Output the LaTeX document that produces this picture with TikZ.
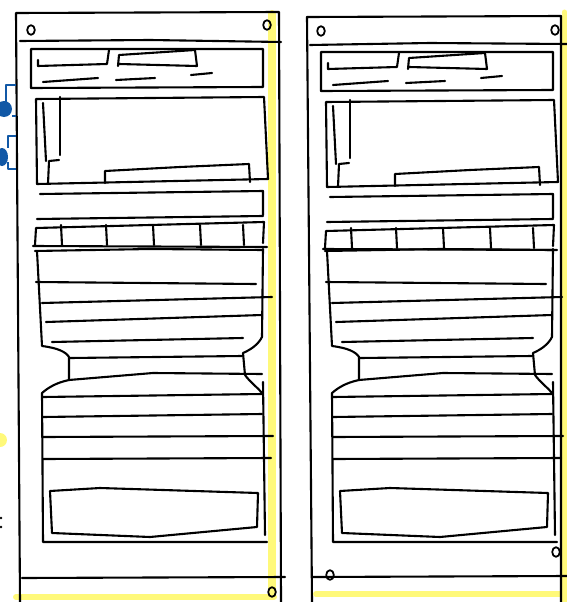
\documentclass[tikz,border=0pt]{standalone}
\usepackage{xcolor}
\usepackage{tikz}

\definecolor{marker}{HTML}{FFF97A}
\definecolor{bluepen}{HTML}{1158A6}

\begin{document}
\begin{tikzpicture}[
    x=1pt, y=-1pt,
    pen/.style={draw=black, line width=2.1pt, line cap=round, line join=round},
    hole/.style={pen, line width=1.8pt},
    hilite/.style={draw=marker, line width=#1, line cap=round},
    hilite/.default=8pt,
    wire/.style={draw=bluepen, line width=1.4pt, line join=round}
]
\useasboundingbox (0,0) rectangle (567,602);
\clip (0,0) rectangle (567,602);

% Highlighter strokes
\path[hilite] (272,14) -- (272,596);
\path[hilite=6pt] (16,597) -- (274,597);
\path[hilite=5pt] (564.5,12) -- (564.5,602);
\path[hilite=6pt] (316,594) -- (565,594);
\fill[marker] (0,440) circle (7);

% Outer frames
\draw[pen] (20,602) -- (16,13) -- (279,12) -- (281,602);
\draw[pen] (312,602) -- (307,17) -- (561,16) -- (561,602);

% Top and bottom rails
\draw[pen] (20,41) -- (150,40) -- (281,42);
\draw[pen] (22,578) -- (285,577);
\draw[pen] (310,45) -- (430,43) -- (567,44);
\draw[pen] (312,577) -- (567,576);

% Screw holes
\foreach \hx/\hy in {31/30, 267/25, 272/592, 321/31, 555/30, 556/552, 330/575}
  \draw[hole] (\hx,\hy) ellipse (3.8 and 4.8);

% Blue connectors (left edge)
\draw[wire] (16,85) -- (6,85) -- (6,102);
\fill[bluepen] (4,109) ellipse (8 and 8);
\draw[wire] (12,116) -- (16,116);
\draw[wire] (16,136) -- (8,136) -- (8,148);
\fill[bluepen] (2,157) ellipse (6 and 9);
\draw[wire] (8,162) -- (8,169) -- (16,169);

% Stray dots
\fill (1,518) circle (1.3);
\fill (1,527) circle (1.3);

% Upper panel parts
\foreach \dx/\dy in {0/0, 290/3} {
\begin{scope}[shift={(\dx,\dy)}]
  % header
  \draw[pen] (31,49) -- (263,49) -- (263,87) -- (31,88) -- cycle;
  \draw[pen] (38,60) -- (38,66) -- (107,64) -- (109,50);
  \draw[pen] (119,64) -- (197,66) -- (195,50) -- (119,55) -- (118,66);
  \draw[pen] (43,82) -- (98,78);
  \draw[pen] (116,80) -- (155,78);
  \draw[pen] (191,75) -- (212,73);
  % screen
  \draw[pen] (36,99) -- (264,97) -- (268,179) -- (37,184) -- cycle;
  \draw[pen] (43,103) -- (46,161);
  \draw[pen] (59,160) -- (49,161) -- (48,184);
  \draw[pen] (60,97) -- (60,155);
  \draw[pen] (105,183) -- (105,171) -- (180,167) -- (249,164) -- (250,182);
  % bar
  \draw[pen] (40,194) -- (263,191) -- (263,215);
  \draw[pen] (37,219) -- (263,216);
  % tabs
  \draw[pen] (35,245) -- (36,228) -- (264,222) -- (263,243);
  \draw[pen] (33,246) -- (267,247);
  \foreach \tx in {61,106,153,200,243}
    \draw[pen] (\tx,225) -- (\tx+1,245);
\end{scope}
}

% Lower panel parts
\foreach \dx in {0,290} {
\begin{scope}[shift={(\dx,0)}]
  % list outline
  \draw[pen] (35,251) -- (150,249) -- (263,250);
  \draw[pen] (37,251) -- (42,346) .. controls (58,348) and (66,352) .. (69,357)
    -- (69,380) .. controls (55,383) and (48,388) .. (42,393) -- (43,542) -- (267,542);
  \draw[pen] (263,249) -- (262,337) .. controls (258,345) and (250,350) .. (243,353)
    -- (245,375) .. controls (250,382) and (257,387) .. (262,393);
  \draw[pen] (263,382) -- (265,535);
  % rows
  \draw[pen] (36,282) -- (256,284);
  \draw[pen] (42,303) -- (272,297);
  \draw[pen] (46,322) -- (262,315);
  \draw[pen] (52,342) -- (243,338);
  \draw[pen] (70,358) -- (242,356);
  \draw[pen] (69,380) -- (153,373) -- (262,374);
  \draw[pen] (43,397) -- (262,394);
  \draw[pen] (43,417) -- (262,414);
  \draw[pen] (43,437) -- (273,436);
  \draw[pen] (43,459) -- (271,458);
  % footer box
  \draw[pen] (50,491) -- (52,533) -- (150,537) -- (257,527) -- (258,493) -- (100,488) -- cycle;
\end{scope}
}

\end{tikzpicture}
\end{document}
